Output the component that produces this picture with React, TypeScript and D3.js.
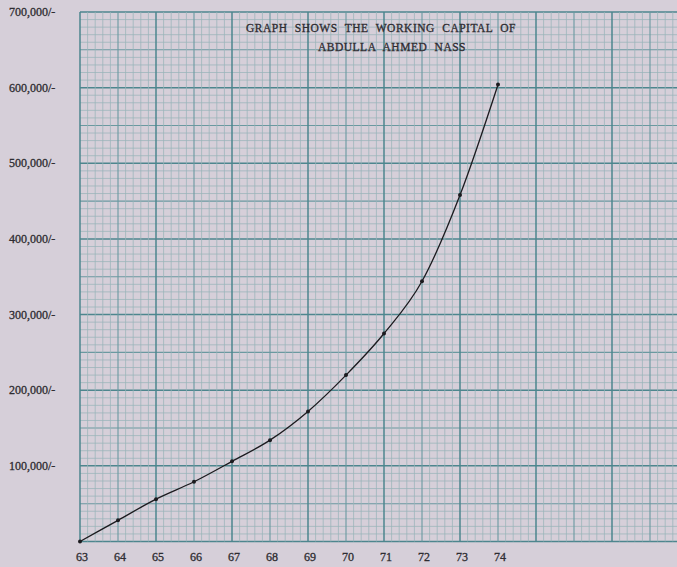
import * as d3 from "d3";

const W = 677;
const H = 567;

// years (19xx) and working capital read from the sheet
const years = [63, 64, 65, 66, 67, 68, 69, 70, 71, 72, 73, 74];
const capital = [0, 28000, 56000, 79000, 106000, 134000, 172000, 220000, 275000, 344000, 458000, 604000];

const yTicks = [100000, 200000, 300000, 400000, 500000, 600000, 700000];
const yTickLabels = ["100,000/-", "200,000/-", "300,000/-", "400,000/-", "500,000/-", "600,000/-", "700,000/-"];

const titleLines = ["GRAPH SHOWS THE WORKING CAPITAL OF", "ABDULLA AHMED NASS"];

const paper = "#d6cfd9";
const gridMajor = "#4d868e";
const gridMid = "#6a99a0";
const gridMinor = "#9ab4ba";
const ink = "#2e2c31";

export default function App() {
  const x = d3.scaleLinear().domain([63, 74]).range([80, 498]);
  const y = d3.scaleLinear().domain([0, 700000]).range([541.5, 12]);

  const xMax = x.invert(W + 2);
  // one small square = 0.2 year horizontally, 10,000 vertically
  const vLines = d3.range(0, Math.ceil((xMax - 63) / 0.2) + 1);
  const hLines = d3.range(0, 71);

  const line = d3
    .line<number>()
    .x((_, i) => x(years[i]))
    .y((d) => y(d))
    .curve(d3.curveMonotoneX);

  const font = "'Liberation Serif', 'DejaVu Serif', serif";

  const style = (i: number) => {
    const lvl = i % 10 === 0 ? 2 : i % 5 === 0 ? 1 : 0;
    return {
      stroke: lvl === 2 ? gridMajor : lvl === 1 ? gridMid : gridMinor,
      strokeWidth: lvl === 2 ? 1.5 : lvl === 1 ? 1.1 : 0.75,
    };
  };

  const textInk = { fill: ink, stroke: ink, strokeWidth: 0.3 };

  return (
    <svg
      width={W}
      height={H}
      style={{ position: "absolute", left: 0, top: 0, background: paper }}
    >
      <rect x={0} y={0} width={W} height={H} fill={paper} />

      {/* graph paper */}
      <g>
        {hLines.map((i) => {
          const yy = y(i * 10000);
          return <line key={"h" + i} x1={x(63)} x2={W} y1={yy} y2={yy} {...style(i)} />;
        })}
        {vLines.map((i) => {
          const xx = x(63 + i * 0.2);
          return <line key={"v" + i} x1={xx} x2={xx} y1={y(0)} y2={y(700000)} {...style(i)} />;
        })}
      </g>

      {/* title */}
      <g
        fontFamily={font}
        fontSize={11.5}
        {...textInk}
        textAnchor="middle"
        style={{ letterSpacing: "0.5px", wordSpacing: "4px" }}
      >
        <text x={381} y={32}>{titleLines[0]}</text>
        <text x={392} y={51}>{titleLines[1]}</text>
      </g>

      {/* y labels */}
      <g fontFamily={font} fontSize={12} {...textInk}>
        {yTicks.map((t, i) => (
          <text key={t} x={9} y={y(t) + 4}>
            {yTickLabels[i]}
          </text>
        ))}
      </g>

      {/* x labels */}
      <g fontFamily={font} fontSize={12} {...textInk} textAnchor="middle">
        {years.map((yr) => (
          <text key={yr} x={x(yr) + 2} y={561}>
            {yr}
          </text>
        ))}
      </g>

      {/* curve */}
      <path d={line(capital) || ""} fill="none" stroke="#1c1b1f" strokeWidth={1.3} />
      {capital.map((v, i) => (
        <circle key={i} cx={x(years[i])} cy={y(v)} r={2} fill="#1c1b1f" />
      ))}
    </svg>
  );
}
